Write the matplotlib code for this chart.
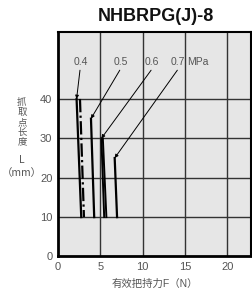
import matplotlib.pyplot as plt

plt.rcParams['font.family'] = ['Liberation Sans', 'Noto Sans CJK SC', 'DejaVu Sans']

# pressure curves: (x_top, x_bottom), (y_top, y_bottom)
solid_04 = ([2.2, 2.75], [40, 10])
dashdot_04 = ([2.6, 3.07], [40, 10])
line_05 = ([3.9, 4.28], [35, 10])
line_06a = ([5.13, 5.46], [30, 10])
line_06b = ([5.3, 5.72], [30, 10])
line_07 = ([6.7, 6.98], [25, 10])

labels = ["0.4", "0.5", "0.6", "0.7"]
label_x = [2.7, 7.4, 11.1, 14.2]
label_y = 49.5
arrow_tips = [(2.2, 40), (3.9, 35), (5.13, 30), (6.7, 25)]

xticks = [0, 5, 10, 15, 20]
yticks = [0, 10, 20, 30, 40]

ylabel_parts = ["抓", "取", "点", "长", "度", "L", "（mm）"]
ylabel_rows = [102, 112.5, 123, 133, 143, 160, 173]  # pixel rows from top
ylabel_sizes = [6.8, 6.8, 6.8, 6.8, 6.8, 7.5, 7.5]

fig = plt.figure(figsize=(2.52, 2.91), dpi=100)
ax = fig.add_axes([0.230, 0.1186, 0.766, 0.7714])
ax.set_facecolor("#e6e6e6")

for x in [5, 10, 15, 20]:
    ax.axvline(x, color="#333333", lw=1.0, zorder=1)
for y in [10, 20, 30, 40]:
    ax.axhline(y, color="#333333", lw=1.0, zorder=1)

ax.plot(*solid_04, color="black", lw=1.6, zorder=3)
ax.plot(*dashdot_04, color="black", lw=1.6, ls=(0, (6, 1.5, 1, 1.5)), zorder=3)
ax.plot(*line_05, color="black", lw=1.6, zorder=3)
ax.plot(*line_06a, color="black", lw=1.4, zorder=3)
ax.plot(*line_06b, color="black", lw=1.4, zorder=3)
ax.plot(*line_07, color="black", lw=1.6, zorder=3)

for lab, lx, tip in zip(labels, label_x, arrow_tips):
    ax.text(lx, label_y, lab, ha="center", va="center", fontsize=7.5, color="#555555")
    ax.annotate("", xy=tip, xytext=(lx - 0.1, label_y - 2.2),
                arrowprops=dict(arrowstyle="-|>", color="black", lw=0.7,
                                mutation_scale=5, shrinkA=0, shrinkB=0))
ax.text(15.3, label_y, "MPa", ha="left", va="center", fontsize=7.5, color="#555555")

ax.set_xlim(0, 22.8)
ax.set_ylim(0, 57)
ax.set_xticks(xticks)
ax.set_yticks(yticks)
ax.tick_params(length=0, labelsize=8, colors="#555555", pad=4)
ax.spines["left"].set_linewidth(2)
ax.spines["bottom"].set_linewidth(2)
ax.spines["top"].set_linewidth(1.5)
ax.spines["right"].set_linewidth(1.5)

ax.set_xlabel("有效把持力F（N）", fontsize=7.5, color="#555555", labelpad=5)

for part, row, size in zip(ylabel_parts, ylabel_rows, ylabel_sizes):
    fig.text(0.087, 1 - row / 291, part, ha="center", va="center", fontsize=size,
             color="#555555", family=["Noto Sans CJK SC", "DejaVu Sans"])

fig.text(0.62, 0.945, "NHBRPG(J)-8", ha="center", va="center", fontsize=13,
         fontweight="bold", color="#111111")

fig.savefig("out.png", dpi=100)
